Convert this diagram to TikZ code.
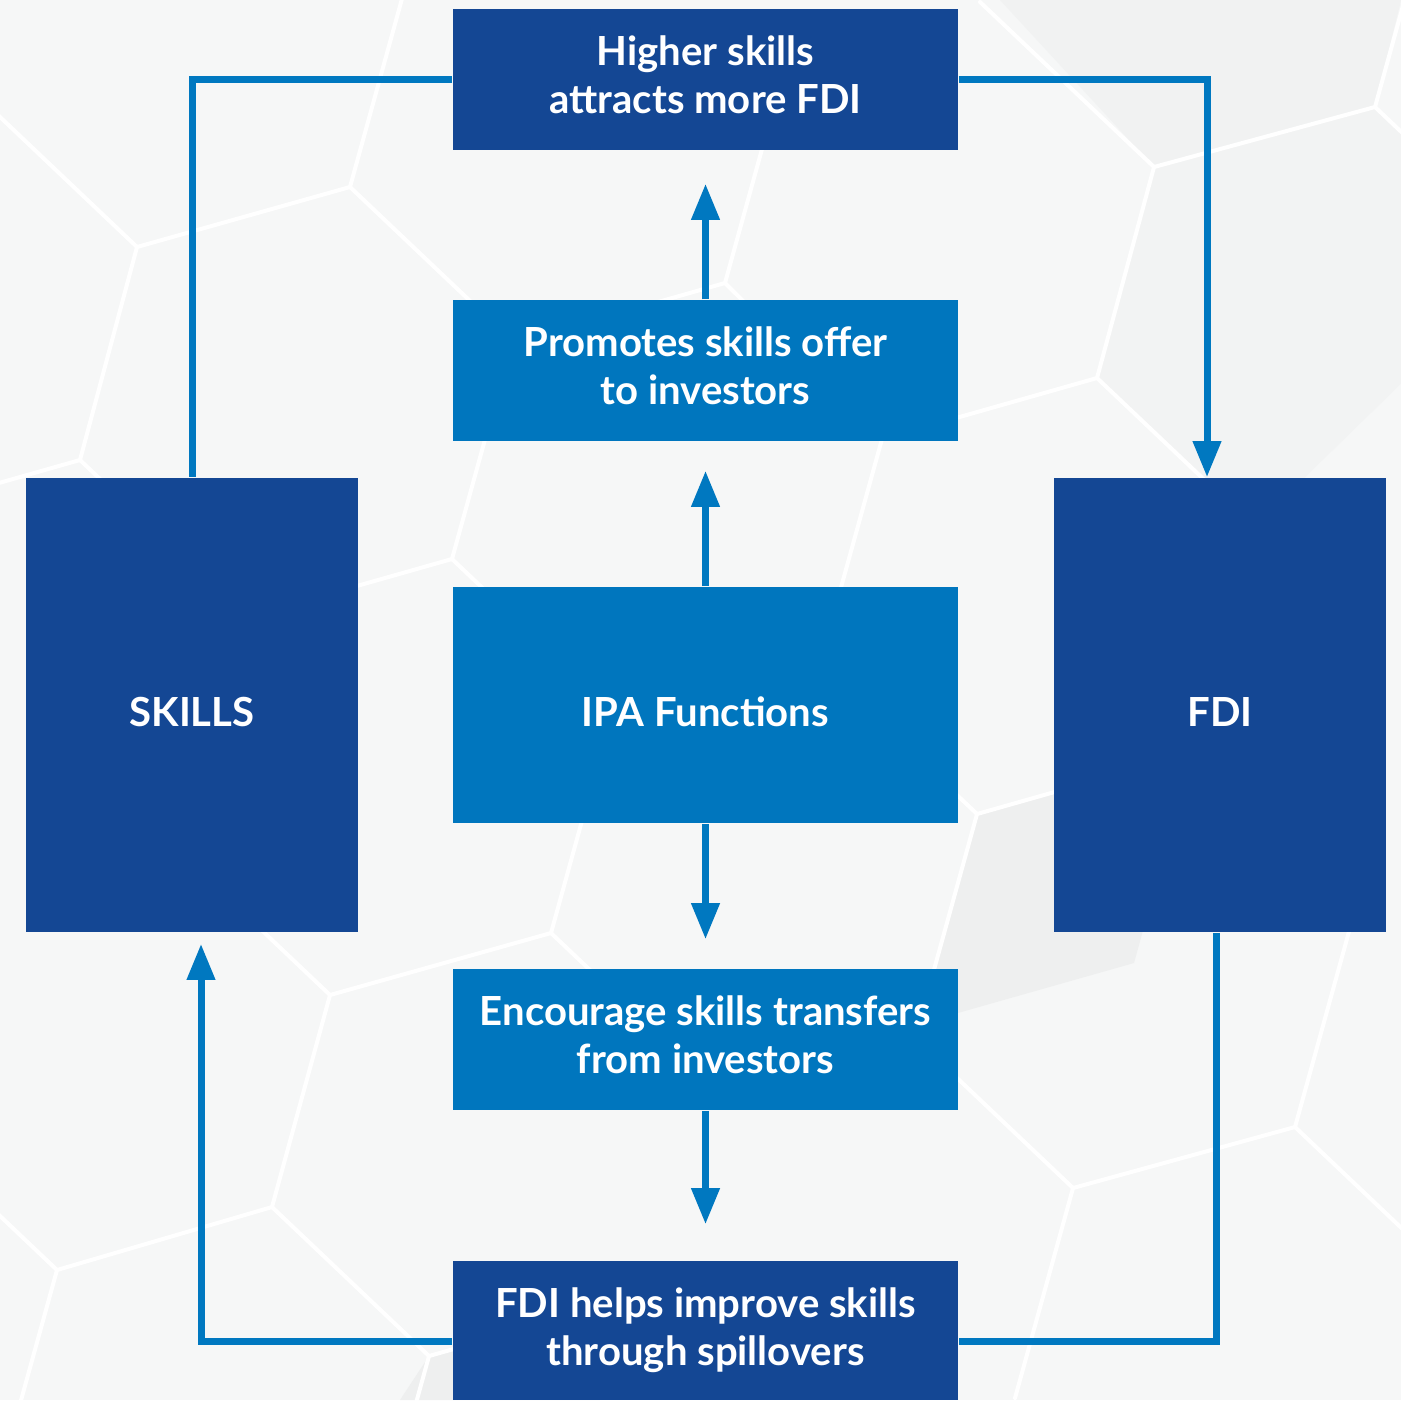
\documentclass[tikz,border=0pt]{standalone}
\usepackage{fontspec}
\setmainfont{Lato}
\usetikzlibrary{arrows.meta}
\definecolor{darkbox}{RGB}{20,71,148}
\definecolor{midbox}{RGB}{0,118,190}
\definecolor{linec}{RGB}{0,120,192}
\definecolor{bgc}{RGB}{246,247,247}
\definecolor{shadec}{RGB}{238,239,239}
\begin{document}
\begin{tikzpicture}[x=0.01cm,y=-0.01cm,
  box/.style={rectangle, inner sep=0pt, text=white, align=center,
    font=\fontsize{11.4}{13.66}\selectfont\bfseries},
  dbox/.style={box, fill=darkbox},
  mbox/.style={box, fill=midbox},
  wide/.style={minimum width=5.05cm},
  twoline/.style={text depth=0.1cm},
  oneline/.style={text height=0.42cm, text depth=0cm},
  conn/.style={draw=linec, line width=0.07cm},
  arr/.style={conn, -{Triangle[length=0.36cm,width=0.27cm]}},
  hexline/.style={draw=white, line width=0.04cm, line cap=round, line join=round}]
\useasboundingbox (0,0) rectangle (1401,1400);
% background
\fill[bgc] (0,0) rectangle (1401,1400);
\begin{scope}
\clip (0,0) rectangle (1401,1400);
\fill[shadec] (977,814) -- (1192,753) -- (1134,963) -- (919,1024) -- cycle;
\fill[shadec!60!bgc] (1154,167) -- (1375,107) -- (1401,0) -- (1000,0) -- cycle;
\fill[shadec!50!bgc] (1097,378) -- (1154,167) -- (1375,107) -- (1532,256) -- (1254,527) -- cycle;
\fill[shadec] (429,1356) -- (644,1295) -- (600,1400) -- (400,1400) -- cycle;
\draw[hexline] (-20,98) -- (137,247) -- (350,187) -- (408,-23);
\draw[hexline] (137,247) -- (80,460) -- (-135,521);
\draw[hexline] (80,460) -- (237,609);
\draw[hexline] (350,187) -- (507,336);
\draw[hexline] (980,2) -- (1154,167) -- (1375,107) -- (1433,-103);
\draw[hexline] (1375,107) -- (1532,256);
\draw[hexline] (1154,167) -- (1097,378) -- (882,439) -- (725,283) -- (783,73);
\draw[hexline] (1097,378) -- (1254,527);
\draw[hexline] (882,439) -- (824,649);
\draw[hexline] (725,283) -- (510,344);
\draw[hexline] (452,559) -- (510,349);
\draw[hexline] (237,620) -- (452,559) -- (609,708);
\draw[hexline] (1192,753) -- (977,814) -- (919,1024);
\draw[hexline] (977,814) -- (820,665);
\draw[hexline] (173,846) -- (330,995) -- (551,933) -- (609,723);
\draw[hexline] (551,933) -- (708,1082);
\draw[hexline] (330,995) -- (272,1207) -- (57,1270) -- (-1,1480);
\draw[hexline] (57,1270) -- (-100,1121);
\draw[hexline] (272,1207) -- (429,1356) -- (644,1295);
\draw[hexline] (429,1356) -- (371,1566);
\draw[hexline] (916,1039) -- (1073,1188) -- (1295,1127) -- (1353,917);
\draw[hexline] (1073,1188) -- (1015,1398);
\draw[hexline] (1295,1127) -- (1452,1276);
\end{scope}
% nodes
\node[dbox, wide, twoline, minimum height=1.41cm] (hi) at (705.5,79.5) {Higher skills\\attracts more FDI};
\node[mbox, wide, twoline, minimum height=1.41cm] (promo) at (705.5,370.5) {Promotes skills offer\\to investors};
\node[mbox, wide, oneline, minimum height=2.36cm] (ipa) at (705.5,705) {IPA Functions};
\node[mbox, wide, twoline, minimum height=1.41cm] (enc) at (705.5,1039.5) {Encourage skills transfers\\from investors};
\node[dbox, wide, minimum height=1.39cm] (spill) at (705.5,1330.5) {FDI helps improve skills\\through spillovers};
\node[dbox, oneline, minimum width=3.32cm, minimum height=4.54cm] (skills) at (192,705) {SKILLS};
\node[dbox, oneline, minimum width=3.32cm, minimum height=4.54cm] (fdi) at (1220,705) {FDI};
% connectors
\draw[conn] (hi.west) -| (skills.north);
\draw[arr] (hi.east) -| ([xshift=-0.13cm]fdi.north);
\draw[arr, shorten >=0.33cm] (promo.north) -- (hi.south);
\draw[arr, shorten >=0.29cm] (ipa.north) -- (promo.south);
\draw[arr, shorten >=0.29cm] (ipa.south) -- (enc.north);
\draw[arr, shorten >=0.36cm] (enc.south) -- (spill.north);
\draw[conn] ([xshift=-0.04cm]fdi.south) |- ([yshift=-0.105cm]spill.east);
\draw[arr, shorten >=0.11cm] ([yshift=-0.105cm]spill.west) -| ([xshift=0.09cm]skills.south);
\end{tikzpicture}
\end{document}
